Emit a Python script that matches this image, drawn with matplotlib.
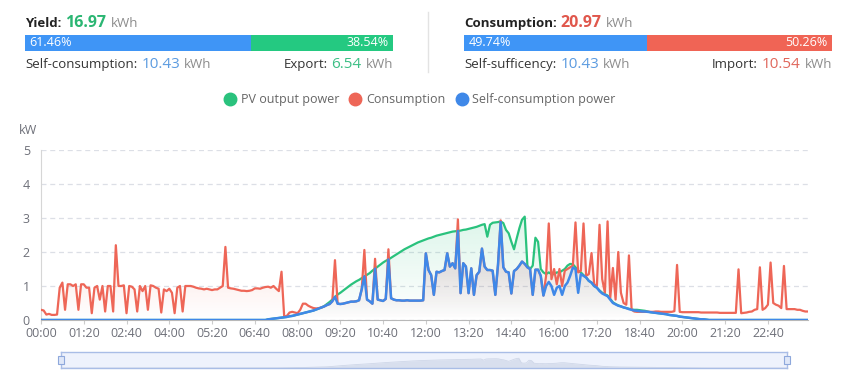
import numpy as np
import matplotlib
matplotlib.use('Agg')
import matplotlib.pyplot as plt
from matplotlib.lines import Line2D
from matplotlib.patches import Rectangle
from matplotlib.colors import to_rgb

plt.rcParams['font.family'] = ['Open Sans', 'DejaVu Sans']

W, H = 855, 382

# summary figures (kWh / %)
yield_kwh = 16.97
self_use_kwh = 10.43
export_kwh = 6.54
consumption_kwh = 20.97
sufficiency_kwh = 10.43
import_kwh = 10.54
yield_split = [61.46, 38.54]
consumption_split = [49.74, 50.26]

series_names = ['PV output power', 'Consumption', 'Self-consumption power']

# 5 minute samples, 00:00 .. 23:55
times = ['%02d:%02d' % divmod(m, 60) for m in range(0, 1440, 5)]

pv_power = [
    0, 0, 0, 0, 0, 0, 0, 0, 0, 0, 0, 0, 0, 0, 0, 0, 0, 0, 0, 0, 0, 0, 0, 0,
    0, 0, 0, 0, 0, 0, 0, 0, 0, 0, 0, 0, 0, 0, 0, 0, 0, 0, 0, 0, 0, 0, 0, 0,
    0, 0, 0, 0, 0, 0, 0, 0, 0, 0, 0, 0, 0, 0, 0, 0, 0, 0, 0, 0, 0, 0, 0, 0,
    0, 0, 0, 0, 0, 0, 0, 0, 0, 0, 0, 0, 0, 0.02, 0.03, 0.04, 0.05, 0.06, 0.07, 0.08, 0.09, 0.11, 0.12, 0.14,
    0.16, 0.18, 0.20, 0.22, 0.24, 0.26, 0.28, 0.31, 0.34, 0.37, 0.41, 0.47, 0.53, 0.60, 0.68, 0.75, 0.80, 0.86, 0.92, 0.98, 1.04, 1.09, 1.14, 1.18,
    1.23, 1.28, 1.33, 1.38, 1.45, 1.51, 1.57, 1.63, 1.69, 1.74, 1.78, 1.83, 1.88, 1.93, 1.98, 2.03, 2.08, 2.12, 2.16, 2.20, 2.24, 2.28, 2.31, 2.34,
    2.37, 2.40, 2.42, 2.45, 2.48, 2.50, 2.52, 2.54, 2.56, 2.58, 2.60, 2.61, 2.62, 2.63, 2.65, 2.66, 2.68, 2.70, 2.72, 2.74, 2.77, 2.80, 2.82, 2.45,
    2.80, 2.86, 2.87, 2.88, 2.90, 2.85, 2.65, 2.55, 2.30, 2.08, 2.40, 2.70, 2.95, 3.04, 1.60, 1.50, 1.60, 2.42, 2.30, 1.50, 1.40, 1.35, 1.40, 1.35,
    1.35, 1.40, 1.40, 1.45, 1.50, 1.60, 1.65, 1.64, 1.55, 1.45, 1.40, 1.32, 1.25, 1.15, 1.10, 1.00, 0.95, 0.87, 0.80, 0.76, 0.72, 0.62, 0.52, 0.47,
    0.43, 0.40, 0.37, 0.35, 0.33, 0.31, 0.30, 0.30, 0.29, 0.28, 0.27, 0.25, 0.23, 0.22, 0.21, 0.20, 0.19, 0.18, 0.17, 0.15, 0.14, 0.13, 0.12, 0.10,
    0.09, 0.08, 0.07, 0.06, 0.05, 0.04, 0.03, 0.02, 0.02, 0.01, 0, 0, 0, 0, 0, 0, 0, 0, 0, 0, 0, 0, 0, 0,
    0, 0, 0, 0, 0, 0, 0, 0, 0, 0, 0, 0, 0, 0, 0, 0, 0, 0, 0, 0, 0, 0, 0, 0,
]

consumption = [
    0.30, 0.28, 0.16, 0.18, 0.15, 0.15, 0.16, 0.95, 1.10, 0.30, 1.05, 1.05, 1.00, 1.05, 0.30, 1.05, 1.05, 0.95, 0.95, 0.20, 0.95, 1.00, 0.60, 1.00,
    0.25, 1.00, 1.00, 0.25, 2.20, 1.00, 1.00, 1.02, 0.20, 1.00, 0.98, 0.90, 0.25, 1.00, 0.85, 1.00, 0.30, 1.02, 1.00, 0.95, 0.92, 0.22, 0.90, 0.85,
    0.92, 0.80, 0.20, 0.95, 1.00, 0.25, 1.00, 1.00, 1.00, 0.98, 0.95, 0.93, 0.92, 0.90, 0.92, 0.90, 0.88, 0.90, 0.90, 0.95, 1.00, 2.15, 0.95, 0.93,
    0.92, 0.90, 0.88, 0.86, 0.86, 0.85, 0.86, 0.88, 0.93, 0.93, 0.92, 0.95, 0.97, 0.98, 0.95, 1.00, 0.92, 0.85, 1.42, 0.10, 0.12, 0.22, 0.24, 0.22,
    0.20, 0.30, 0.48, 0.48, 0.42, 0.38, 0.35, 0.34, 0.35, 0.37, 0.40, 0.44, 0.47, 0.55, 1.76, 0.48, 0.47, 0.48, 0.50, 0.52, 0.54, 0.54, 0.55, 0.58,
    0.90, 2.06, 0.60, 0.55, 0.48, 1.80, 0.60, 0.58, 0.56, 0.62, 2.08, 0.64, 0.60, 0.58, 0.58, 0.57, 0.57, 0.58, 0.57, 0.57, 0.57, 0.57, 0.57, 0.58,
    1.96, 1.47, 1.32, 0.74, 1.42, 1.40, 1.44, 1.47, 1.96, 1.57, 1.67, 1.52, 2.96, 0.79, 1.67, 1.57, 0.79, 1.52, 0.74, 1.32, 1.42, 2.10, 1.57, 1.47,
    1.47, 1.45, 0.74, 1.62, 2.93, 1.55, 1.42, 1.40, 0.78, 1.44, 1.50, 1.60, 1.72, 1.65, 1.55, 1.50, 0.74, 1.48, 1.48, 1.30, 0.72, 1.30, 2.84, 1.20,
    1.50, 1.05, 1.50, 1.00, 1.45, 1.50, 1.55, 1.60, 2.87, 1.40, 1.45, 2.84, 1.30, 1.35, 1.97, 1.05, 1.00, 2.80, 1.20, 0.80, 2.90, 0.65, 1.53, 0.60,
    2.00, 0.80, 0.50, 0.45, 1.90, 0.30, 0.25, 0.24, 0.24, 0.24, 0.24, 0.24, 0.24, 0.24, 0.25, 0.25, 0.24, 0.24, 0.24, 0.24, 0.24, 0.26, 1.62, 0.24,
    0.23, 0.23, 0.23, 0.23, 0.23, 0.23, 0.23, 0.22, 0.22, 0.22, 0.22, 0.22, 0.22, 0.22, 0.21, 0.21, 0.21, 0.21, 0.21, 0.21, 0.21, 1.49, 0.20, 0.21,
    0.22, 0.24, 0.25, 0.30, 0.32, 1.55, 0.30, 0.35, 0.45, 1.69, 0.50, 0.45, 0.42, 0.35, 1.59, 0.32, 0.32, 0.32, 0.32, 0.30, 0.30, 0.27, 0.25, 0.25,
]

self_consumption = [
    0, 0, 0, 0, 0, 0, 0, 0, 0, 0, 0, 0, 0, 0, 0, 0, 0, 0, 0, 0, 0, 0, 0, 0,
    0, 0, 0, 0, 0, 0, 0, 0, 0, 0, 0, 0, 0, 0, 0, 0, 0, 0, 0, 0, 0, 0, 0, 0,
    0, 0, 0, 0, 0, 0, 0, 0, 0, 0, 0, 0, 0, 0, 0, 0, 0, 0, 0, 0, 0, 0, 0, 0,
    0, 0, 0, 0, 0, 0, 0, 0, 0, 0, 0, 0, 0, 0.02, 0.03, 0.04, 0.05, 0.06, 0.07, 0.08, 0.09, 0.11, 0.12, 0.14,
    0.16, 0.18, 0.20, 0.22, 0.24, 0.26, 0.28, 0.31, 0.34, 0.37, 0.40, 0.44, 0.47, 0.55, 0.68, 0.48, 0.47, 0.48, 0.50, 0.52, 0.54, 0.54, 0.55, 0.58,
    0.90, 1.28, 0.60, 0.55, 0.48, 1.51, 0.60, 0.58, 0.56, 0.62, 1.78, 0.64, 0.60, 0.58, 0.58, 0.57, 0.57, 0.58, 0.57, 0.57, 0.57, 0.57, 0.57, 0.58,
    1.96, 1.47, 1.32, 0.74, 1.42, 1.40, 1.44, 1.47, 1.96, 1.57, 1.67, 1.52, 2.62, 0.79, 1.67, 1.57, 0.79, 1.52, 0.74, 1.32, 1.42, 2.10, 1.57, 1.47,
    1.47, 1.45, 0.74, 1.62, 2.88, 1.55, 1.42, 1.40, 0.78, 1.44, 1.50, 1.60, 1.72, 1.65, 1.55, 1.50, 0.74, 1.48, 1.48, 1.30, 0.72, 1.00, 1.12, 1.00,
    0.74, 0.95, 1.00, 0.74, 1.00, 1.10, 1.30, 1.54, 1.50, 0.80, 1.35, 1.30, 1.25, 1.15, 1.10, 1.00, 0.95, 0.85, 0.78, 0.74, 0.70, 0.60, 0.50, 0.46,
    0.42, 0.40, 0.37, 0.35, 0.32, 0.30, 0.28, 0.27, 0.26, 0.25, 0.25, 0.24, 0.23, 0.22, 0.21, 0.20, 0.19, 0.18, 0.17, 0.15, 0.14, 0.13, 0.12, 0.10,
    0.09, 0.08, 0.07, 0.06, 0.05, 0.04, 0.03, 0.02, 0.02, 0.01, 0, 0, 0, 0, 0, 0, 0, 0, 0, 0, 0, 0, 0, 0,
    0, 0, 0, 0, 0, 0, 0, 0, 0, 0, 0, 0, 0, 0, 0, 0, 0, 0, 0, 0, 0, 0, 0, 0,
]

GREEN = '#2ac27d'
RED = '#ee6657'
BLUE = '#3f88e8'
BAR_BLUE = '#3f95f6'
BAR_GREEN = '#24c981'
BAR_RED = '#f06455'
GREY = '#8c8c8c'
AXIS_TXT = '#6e7079'


def fx(px):
    return px / W


def fy(py):
    return 1 - py / H


def rich(fig, x, y, parts, align='left', gap=4):
    # parts: (text, colour, size, weight), drawn one after another on a shared baseline
    r = fig.canvas.get_renderer()
    texts = [fig.text(0, fy(y), s, color=c, fontsize=sz, fontweight=wt, va='baseline')
             for s, c, sz, wt in parts]
    widths = [t.get_window_extent(r).width for t in texts]
    total = sum(widths) + gap * (len(widths) - 1)
    pos = x if align == 'left' else x - total
    for t, w in zip(texts, widths):
        t.set_x(fx(pos))
        pos += w + gap


def split_bar(fig, x0, width, split, colors):
    bx = fig.add_axes([fx(x0), fy(51), width / W, 16 / H])
    bx.barh([0], [split[0]], height=1, color=colors[0], lw=0)
    bx.barh([0], [split[1]], left=split[0], height=1, color=colors[1], lw=0)
    bx.set_xlim(0, 100)
    bx.set_ylim(-0.5, 0.5)
    bx.axis('off')
    bx.text(1.2, 0, '%.2f%%' % split[0], color='white', fontsize=9, va='center', ha='left')
    bx.text(98.8, 0, '%.2f%%' % split[1], color='white', fontsize=9, va='center', ha='right')


def gradient_area(ax, x, y, color, top_alpha, z):
    poly = ax.fill_between(x, 0, y, facecolor='none', edgecolor='none')
    grad = np.zeros((100, 1, 4))
    grad[:, 0, :3] = to_rgb(color)
    grad[:, 0, 3] = np.linspace(0.0, top_alpha, 100)
    im = ax.imshow(grad, extent=[x[0], x[-1], 0, max(y)], origin='lower',
                   aspect='auto', zorder=z, interpolation='bilinear')
    im.set_clip_path(poly.get_paths()[0], transform=ax.transData)


fig = plt.figure(figsize=(W / 100, H / 100), dpi=100)
fig.canvas.draw()

# --- summary header ---
rich(fig, 25, 27, [('Yield:', '#222222', 9.5, 'bold'), ('%.2f' % yield_kwh, '#2bb673', 11.5, 'bold'),
                   ('kWh', GREY, 9.5, 'normal')])
split_bar(fig, 25, 368, yield_split, [BAR_BLUE, BAR_GREEN])
rich(fig, 25, 68, [('Self-consumption:', '#333333', 9.5, 'normal'), ('%.2f' % self_use_kwh, '#5b9be0', 11, 'normal'),
                   ('kWh', GREY, 9.5, 'normal')])
rich(fig, 393, 68, [('Export:', '#333333', 9.5, 'normal'), ('%.2f' % export_kwh, '#3cbf85', 11, 'normal'),
                    ('kWh', GREY, 9.5, 'normal')], align='right')

rich(fig, 464, 27, [('Consumption:', '#222222', 9.5, 'bold'), ('%.2f' % consumption_kwh, '#e0574c', 11.5, 'bold'),
                    ('kWh', GREY, 9.5, 'normal')])
split_bar(fig, 464, 368, consumption_split, [BAR_BLUE, BAR_RED])
rich(fig, 464, 68, [('Self-sufficency:', '#333333', 9.5, 'normal'), ('%.2f' % sufficiency_kwh, '#5b9be0', 11, 'normal'),
                    ('kWh', GREY, 9.5, 'normal')])
rich(fig, 832, 68, [('Import:', '#333333', 9.5, 'normal'), ('%.2f' % import_kwh, '#e0675c', 11, 'normal'),
                    ('kWh', GREY, 9.5, 'normal')], align='right')

fig.add_artist(Line2D([fx(428), fx(428)], [fy(12), fy(72)], color='#e3e3e3', lw=1))

# --- main chart ---
ax = fig.add_axes([fx(41), fy(320), 767 / W, 170 / H])
x = np.arange(len(times))

gradient_area(ax, x, pv_power, GREEN, 0.16, 1)
gradient_area(ax, x, consumption, RED, 0.24, 2)
gradient_area(ax, x, self_consumption, '#4a6fc0', 0.13, 3)
ax.plot(x, pv_power, color=GREEN, lw=1.6, zorder=4)
ax.plot(x, consumption, color=RED, lw=1.6, zorder=5)
ax.plot(x, self_consumption, color=BLUE, lw=1.8, zorder=6)

ax.set_xlim(0, len(times) - 1)
ax.set_ylim(0, 5)
ax.set_yticks(range(6))
ax.yaxis.grid(True, color='#dcdfe6', lw=0.9, linestyle=(0, (4, 3)))
ax.set_axisbelow(True)
ax.set_xticks(x[::16])
ax.set_xticklabels(times[::16])
ax.tick_params(axis='x', labelsize=9, colors='#cccccc', labelcolor=AXIS_TXT, length=3, pad=2)
ax.tick_params(axis='y', labelsize=9, labelcolor=AXIS_TXT, length=0, pad=8)
for s in ['top', 'right']:
    ax.spines[s].set_visible(False)
ax.spines['left'].set_color('#d6d6d6')
ax.spines['bottom'].set_color('#b8b8b8')
fig.text(fx(28), fy(131), 'kW', ha='center', va='center', color=AXIS_TXT, fontsize=9)

# legend
handles = [Line2D([], [], marker='o', linestyle='none', markersize=9, color=c) for c in [GREEN, RED, BLUE]]
fig.legend(handles, series_names, loc='center', bbox_to_anchor=(fx(420), fy(100)), ncol=3,
           frameon=False, fontsize=9, labelcolor='#666666', handlelength=0.9,
           handletextpad=0.4, columnspacing=0.85)

# --- data zoom slider ---
sx = fig.add_axes([fx(61), fy(368), 726 / W, 16 / H])
sx.set_facecolor('#eef2fc')
sx.fill_between(x, 0, pv_power, color='#d8dfee', lw=0)
sx.plot(x, pv_power, color='#cfd7e8', lw=0.6)
sx.set_xlim(0, len(times) - 1)
sx.set_ylim(0, 5)
sx.set_xticks([])
sx.set_yticks([])
for s in sx.spines.values():
    s.set_color('#a9bde6')
    s.set_linewidth(1)
for hx in [0, len(times) - 1]:
    sx.add_patch(Rectangle((hx - 1.2, 1.3), 2.4, 2.4, facecolor='#dfe7f8', edgecolor='#8ea8dc',
                           lw=0.8, clip_on=False, zorder=5))

fig.savefig('out.png', dpi=100)
